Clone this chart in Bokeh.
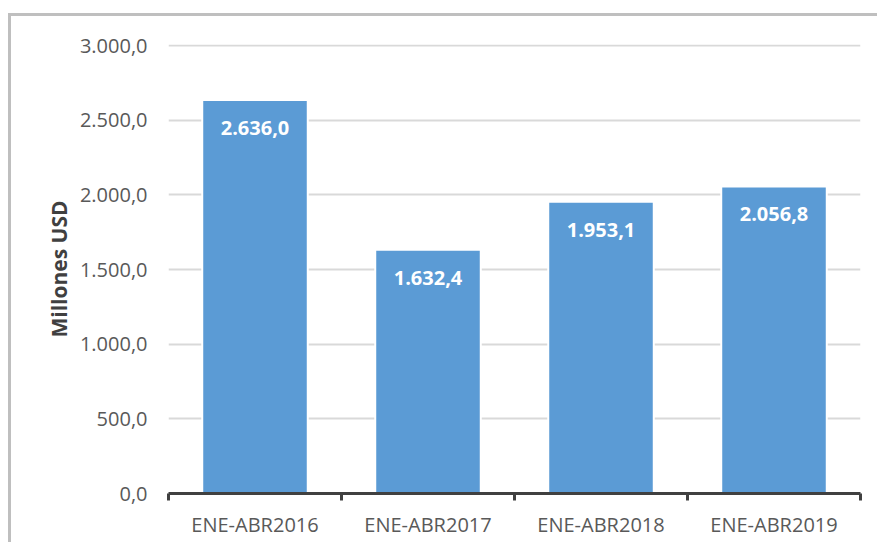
from bokeh.plotting import figure
from bokeh.models import ColumnDataSource, FixedTicker, LabelSet, Range1d
from bokeh.core.properties import value
from bokeh.embed import file_html
from bokeh.resources import INLINE

categories = ["ENE-ABR2016", "ENE-ABR2017", "ENE-ABR2018", "ENE-ABR2019"]
values = [2636.0, 1632.4, 1953.1, 2056.8]
value_labels = ["2.636,0", "1.632,4", "1.953,1", "2.056,8"]
y_ticks = [0, 500, 1000, 1500, 2000, 2500, 3000]
y_tick_labels = ["0,0", "500,0", "1.000,0", "1.500,0", "2.000,0", "2.500,0", "3.000,0"]
y_title = "Millones USD"

FONT = "Open Sans"
n = len(categories)
xs = [i + 0.5 for i in range(n)]

src = ColumnDataSource(dict(x=xs, top=values, label=value_labels, cat=categories))

p = figure(width=869, height=529,
           x_range=Range1d(0, n), y_range=Range1d(0, 3007),
           output_backend="svg", toolbar_location=None,
           min_border_left=157, min_border_right=20,
           min_border_top=28, min_border_bottom=52)
p.margin = (13, 0, 0, 8)
p.styles = {"border-left": "3px solid #bfbfbf", "border-top": "3px solid #bfbfbf"}
p.outline_line_color = None
p.background_fill_color = "white"
p.border_fill_color = "white"

p.vbar(x="x", top="top", width=0.61, source=src,
       fill_color="#5B9BD5", line_color="white", line_width=2)

labels = LabelSet(x="x", y="top", text="label", source=src, y_offset=-28,
                  text_align="center", text_baseline="middle",
                  text_color="white", text_font=value(FONT),
                  text_font_style="bold", text_font_size="20px")
p.add_layout(labels)

# grid
p.xgrid.visible = False
p.ygrid.grid_line_color = "#d9d9d9"
p.ygrid.grid_line_width = 2

# y axis
p.yaxis.ticker = FixedTicker(ticks=y_ticks, minor_ticks=[])
p.yaxis.major_label_overrides = {t: l for t, l in zip(y_ticks, y_tick_labels)}
p.yaxis.axis_line_color = None
p.yaxis.major_tick_line_color = None
p.yaxis.major_tick_out = 0
p.yaxis.major_tick_in = 0
p.yaxis.minor_tick_line_color = None
p.yaxis.major_label_standoff = 21
p.yaxis.major_label_text_font = FONT
p.yaxis.major_label_text_font_size = "20px"
p.yaxis.major_label_text_color = "#595959"
p.yaxis.axis_label = y_title
p.yaxis.axis_label_text_font = FONT
p.yaxis.axis_label_text_font_size = "21px"
p.yaxis.axis_label_text_font_style = "bold"
p.yaxis.axis_label_text_color = "#404040"
p.yaxis.axis_label_standoff = 4

# x axis
p.xaxis.ticker = FixedTicker(ticks=xs, minor_ticks=list(range(n + 1)))
p.xaxis.major_label_overrides = {x: c for x, c in zip(xs, categories)}
p.xaxis.axis_line_color = "#404040"
p.xaxis.axis_line_width = 3
p.xaxis.major_tick_line_color = None
p.xaxis.major_tick_out = 0
p.xaxis.major_tick_in = 0
p.xaxis.minor_tick_line_color = "#404040"
p.xaxis.minor_tick_line_width = 3
p.xaxis.minor_tick_out = 7
p.xaxis.minor_tick_in = 0
p.xaxis.major_label_standoff = 10
p.xaxis.major_label_text_font = FONT
p.xaxis.major_label_text_font_size = "20px"
p.xaxis.major_label_text_color = "#595959"

open("out.html", "w").write(file_html(p, INLINE))
